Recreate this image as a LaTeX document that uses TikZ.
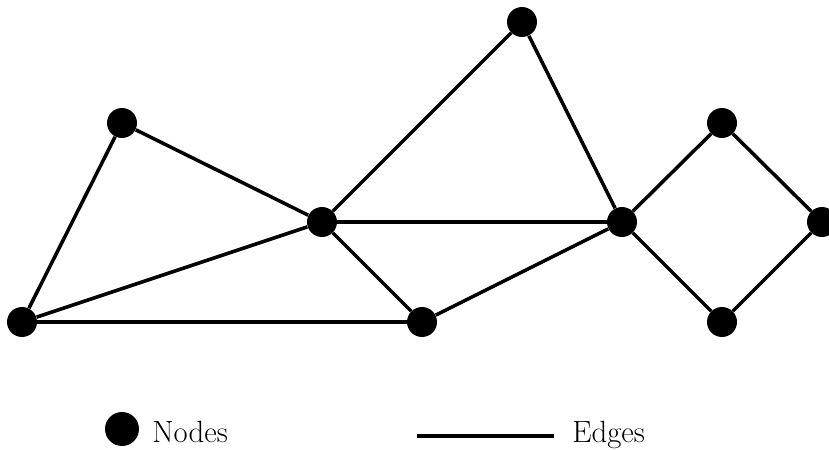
\documentclass[tikz,border=0pt]{standalone}
\usepackage{tikz}
\usetikzlibrary{positioning}
\tikzset{
  vertex/.style={
    circle,
    fill=black,
    inner sep=0pt,
    minimum size=0.6cm
  },
  link/.style={
    line width=2pt,
    draw=black
  },
  legendtext/.style={
    font=\fontsize{17.5}{20}\selectfont,
    anchor=base west,
    inner sep=0pt
  }
}

\begin{document}
\begin{tikzpicture}[x=0.02cm, y=-0.02cm]
\useasboundingbox (0,0) rectangle (829,450);
% graph vertices
\node[vertex] (a) at (22,322) {};
\node[vertex] (b) at (122,123) {};
\node[vertex] (c) at (322,222) {};
\node[vertex] (d) at (422,322) {};
\node[vertex] (e) at (522,22) {};
\node[vertex] (f) at (622,222) {};
\node[vertex] (g) at (722,123) {};
\node[vertex] (h) at (822,222) {};
\node[vertex] (i) at (722,322) {};
% edges
\draw[link] (a) -- (b);
\draw[link] (b) -- (c);
\draw[link] (a) -- (c);
\draw[link] (a) -- (d);
\draw[link] (c) -- (d);
\draw[link] (c) -- (e);
\draw[link] (c) -- (f);
\draw[link] (e) -- (f);
\draw[link] (d) -- (f);
\draw[link] (f) -- (g);
\draw[link] (g) -- (h);
\draw[link] (h) -- (i);
\draw[link] (i) -- (f);
% legend
\node[vertex, minimum size=0.68cm] (keynode) at (122,429) {};
\node[legendtext] (keynodetext) at (152,442) {Nodes};
\coordinate (keyfrom) at (417,436);
\coordinate (keyto) at (554,436);
\draw[link, line width=2.3pt] (keyfrom) -- (keyto);
\node[legendtext] (keyedgetext) at (572,442) {Edges};
\end{tikzpicture}
\end{document}
